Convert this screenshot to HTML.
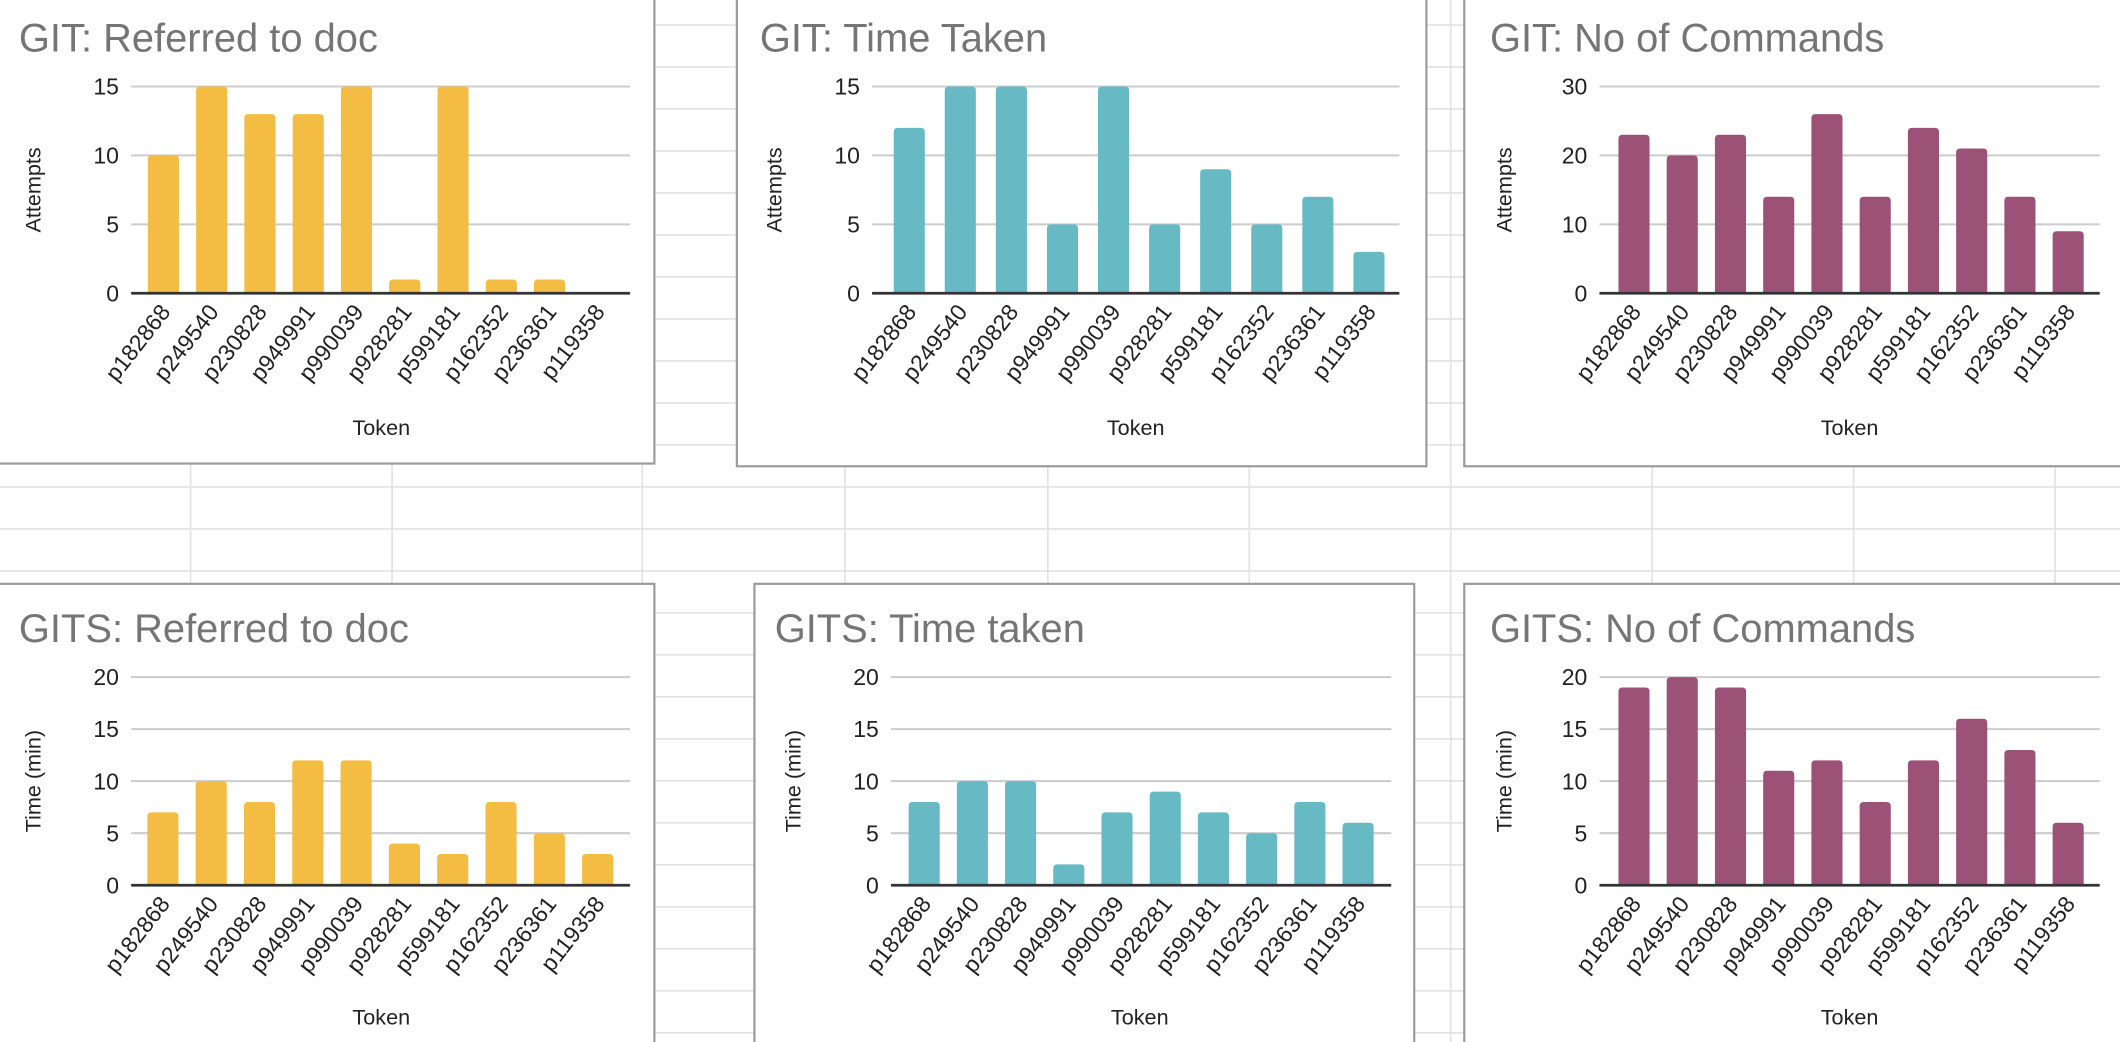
<!DOCTYPE html>
<html><head><meta charset="utf-8"><style>
html,body{margin:0;padding:0;background:#fff;overflow:hidden}
svg{display:block;font-family:"Liberation Sans",Arial,sans-serif}
</style></head><body>
<svg id="s" width="2120" height="1042" viewBox="0 0 1568 771" preserveAspectRatio="none" xmlns="http://www.w3.org/2000/svg">
<g id="grid"></g>
<g id="charts"></g>
</svg>
<script>
const tokens = ["p182868","p249540","p230828","p949991","p990039","p928281","p599181","p162352","p236361","p119358"];
const gitReferred = [10,15,13,13,15,1,15,1,1,0];
const gitTime = [12,15,15,5,15,5,9,5,7,3];
const gitCommands = [23,20,23,14,26,14,24,21,14,9];
const gitsReferred = [7,10,8,12,12,4,3,8,5,3];
const gitsTime = [8,10,10,2,7,9,7,5,8,6];
const gitsCommands = [19,20,19,11,12,8,12,16,13,6];
const ticks15 = [0,5,10,15];
const ticks30 = [0,10,20,30];
const ticks20 = [0,5,10,15,20];

const NS="http://www.w3.org/2000/svg";
function mk(tag,attrs,parent){const e=document.createElementNS(NS,tag);for(const k in attrs)e.setAttribute(k,attrs[k]);parent.appendChild(e);return e;}
const grid=document.getElementById('grid');
for(let i=0;i<26;i++){const y=18.5+i*31.07;const l=mk('line',{x1:0,x2:1568,y1:y,y2:y,stroke:'#e2e2e2','stroke-width':1.2},grid);

}
[141,290,475,625,775,924,1073,1222,1371,1520].forEach(x=>{const l=mk('line',{x1:x,x2:x,y1:0,y2:771,stroke:'#e2e2e2','stroke-width':1.2},grid);

});

const charts=[
 {name:'git-referred-chart',title:'GIT: Referred to doc',box:[-5,-5,484,343],titleX:14,titleY:38,data:gitReferred,ticks:ticks15,color:'#F2BD42',gl:97,gr:466,bl:103,br:460,top:64,bot:217,tickX:88,yt:'Attempts',ytX:25,tokX:282,tokY:322},
 {name:'git-time-chart',title:'GIT: Time Taken',box:[545,-5,1055,345],titleX:562,titleY:38,data:gitTime,ticks:ticks15,color:'#67BAC4',gl:645,gr:1035,bl:653.6,br:1031.4,top:64,bot:217,tickX:636,yt:'Attempts',ytX:573,tokX:840,tokY:322},
 {name:'git-commands-chart',title:'GIT: No of Commands',box:[1083,-5,1575,345],titleX:1102,titleY:38,data:gitCommands,ticks:ticks30,color:'#9C5277',gl:1183,gr:1553,bl:1190.7,br:1547.5,top:64,bot:217,tickX:1174,yt:'Attempts',ytX:1113,tokX:1368,tokY:322},
 {name:'gits-referred-chart',title:'GITS: Referred to doc',box:[-5,432,484,780],titleX:14,titleY:475,data:gitsReferred,ticks:ticks20,color:'#F2BD42',gl:97,gr:466,bl:102.6,br:459.9,top:501,bot:655,tickX:88,yt:'Time (min)',ytX:25,tokX:282,tokY:758},
 {name:'gits-time-chart',title:'GITS: Time taken',box:[558,432,1046,780],titleX:573,titleY:475,data:gitsTime,ticks:ticks20,color:'#67BAC4',gl:659,gr:1029,bl:665.7,br:1022.3,top:501,bot:655,tickX:650,yt:'Time (min)',ytX:587,tokX:843,tokY:758},
 {name:'gits-commands-chart',title:'GITS: No of Commands',box:[1083,432,1575,780],titleX:1102,titleY:475,data:gitsCommands,ticks:ticks20,color:'#9C5277',gl:1183,gr:1553,bl:1190.7,br:1547.5,top:501,bot:655,tickX:1174,yt:'Time (min)',ytX:1113,tokX:1368,tokY:758}
];
const root=document.getElementById('charts');
charts.forEach(c=>{
 const g=mk('g',{},root);
 
 
 const b=c.box;
 const r=mk('rect',{x:b[0],y:b[1],width:b[2]-b[0],height:b[3]-b[1],fill:'#fff',stroke:'#9a9a9a','stroke-width':1.6},g);
 
 
 const t=mk('text',{x:c.titleX,y:c.titleY,'font-size':29.5,fill:'#757575'},g);t.textContent=c.title;
 
 
 const max=c.ticks[c.ticks.length-1];
 const yS=v=>c.bot-(v/max)*(c.bot-c.top);
 c.ticks.forEach(v=>{
  if(v>0){const l=mk('line',{x1:c.gl,x2:c.gr,y1:yS(v),y2:yS(v),stroke:'#cccccc','stroke-width':1.5},g);
  
  }
  const tx=mk('text',{x:c.tickX,y:yS(v)+6,'font-size':17,'text-anchor':'end',fill:'#222'},g);tx.textContent=v;
  
  
 });
 const n=tokens.length, step=(c.br-c.bl)/n, bw=23;
 c.data.forEach((v,i)=>{
  const cx=c.bl+step*(i+0.5);
  if(v>0){const y=yS(v);const h=c.bot-y;const rr=Math.min(3,h/2);
   const p=mk('path',{d:`M${cx-bw/2},${c.bot} V${y+rr} Q${cx-bw/2},${y} ${cx-bw/2+rr},${y} H${cx+bw/2-rr} Q${cx+bw/2},${y} ${cx+bw/2},${y+rr} V${c.bot} Z`,fill:c.color},g);
   
   }
  const lx=cx+6, ly=c.bot+14;
  const lt=mk('text',{x:lx,y:ly,'font-size':17,'text-anchor':'end',fill:'#222',transform:`rotate(-52 ${lx} ${ly})`},g);lt.textContent=tokens[i];
  
  
 });
 const ax=mk('line',{x1:c.gl,x2:c.gr,y1:c.bot,y2:c.bot,stroke:'#333','stroke-width':2},g);
 
 
 const ym=(c.top+c.bot)/2;
 const yt=mk('text',{x:c.ytX,y:ym,'font-size':16,'text-anchor':'middle',fill:'#222',transform:`rotate(-90 ${c.ytX} ${ym})`,dy:5},g);yt.textContent=c.yt;
 
 
 const xt=mk('text',{x:c.tokX,y:c.tokY,'font-size':16,'text-anchor':'middle',fill:'#222'},g);xt.textContent='Token';
 
 
});
</script>
</body></html>
